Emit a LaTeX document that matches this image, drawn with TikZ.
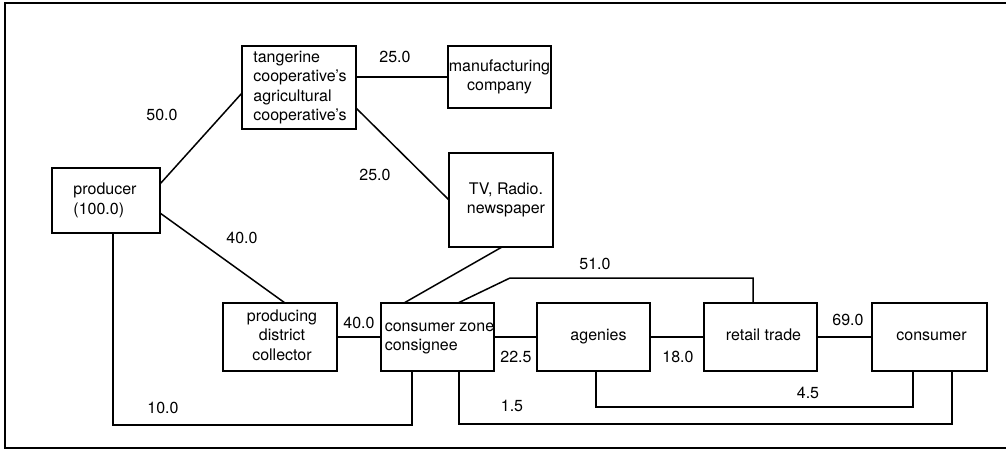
\documentclass[tikz,border=0pt]{standalone}
\usepackage{fontspec}
\setmainfont{TeX Gyre Heros}
\usetikzlibrary{calc}
% lines of a box label, moved by (#1 right, #2 up), column alignment #3
\newcommand\boxlines[4]{\raisebox{#2}{\kern#1\begin{tabular}{@{}#3@{}}#4\end{tabular}\kern-#1}}
\begin{document}
\begin{tikzpicture}[x=1pt,y=-1pt,
  every node/.style={font=\fontsize{16}{19.5}\selectfont},
  box/.style={draw, line width=1.6pt, anchor=north west, inner sep=0pt, outer sep=0pt},
  flow/.style={line width=1.5pt},
  qty/.style={inner sep=0pt}]
\useasboundingbox (0,0) rectangle (1006,450);
% frame, running off the right edge
\draw[line width=1.8pt] (1006,3) -- (5,3) -- (5,448) -- (1006,448);

% boxes
\node[box, minimum width=114, minimum height=83] (tang) at (242,46)
  {\boxlines{1pt}{0pt}{l}{tangerine\\cooperative's\\agricultural\\cooperative's}};
\node[box, minimum width=103, minimum height=62] (manu) at (448,46)
  {\boxlines{0pt}{-5pt}{c}{manufacturing\\company}};
\node[box, minimum width=104, minimum height=94] (tv) at (449,153)
  {\boxlines{5pt}{-1pt}{c}{TV, Radio.\\newspaper}};
\node[box, minimum width=108, minimum height=65] (prod) at (52,168)
  {\boxlines{-1pt}{0pt}{l}{producer\\(100.0)}};
\node[box, minimum width=114, minimum height=68] (coll) at (223,303)
  {\boxlines{2pt}{0pt}{c}{producing\\district\\collector}};
\node[box, minimum width=113, minimum height=68] (cz) at (381,303)
  {\boxlines{2pt}{-6pt}{l}{consumer zone\\consignee}};
\node[box, minimum width=113, minimum height=68] (ag) at (537,303)
  {\boxlines{5pt}{0pt}{c}{agenies}};
\node[box, minimum width=113, minimum height=68] (rt) at (704,303)
  {\boxlines{3pt}{-4pt}{c}{retail trade}};
\node[box, minimum width=115, minimum height=68] (cons) at (872,303)
  {\boxlines{2pt}{-4pt}{c}{consumer}};

% connectors
\draw[flow] (manu.west) -- (manu.west -| tang.east);
\draw[flow] ($(tang.north east)+(0,62)$) -- (tv.west);
\draw[flow] ($(prod.north east)+(0,16)$) -- ($(tang.north west)+(0,47)$);
\draw[flow] ($(prod.north east)+(0,45)$) -- ($(coll.north west)+(62,0)$);
\draw[flow] ($(prod.south west)+(61,0)$) -- ++(0,192) -| ($(cz.south west)+(31,0)$);
\draw[flow] (coll.east) -- (cz.west);
\draw[flow] ($(tv.south west)+(53,0)$) -- ($(cz.north west)+(23,0)$);
\draw[flow] ($(cz.north west)+(77,0)$) -- ++(52,-25) -| ($(rt.north west)+(49,0)$);
\draw[flow] (cz.east) -- (ag.west);
\draw[flow] (ag.east) -- (rt.west);
\draw[flow] (rt.east) -- (cons.west);
\draw[flow] ($(ag.south west)+(59,0)$) -- ++(0,36) -| ($(cons.south west)+(41,0)$);
\draw[flow] ($(cz.south west)+(78,0)$) -- ++(0,53) -| ($(cons.south west)+(80,0)$);

% quantities
\node[qty] (q50) at (162,115) {50.0};
\node[qty] (q25a) at (395,57) {25.0};
\node[qty] (q25b) at (375,175) {25.0};
\node[qty] (q40a) at (242,238) {40.0};
\node[qty] (q40b) at (359,323) {40.0};
\node[qty] (q10) at (163,408) {10.0};
\node[qty] (q51) at (595,264) {51.0};
\node[qty] (q225) at (516,357) {22.5};
\node[qty] (q18) at (678,357) {18.0};
\node[qty] (q69) at (848,320) {69.0};
\node[qty] (q45) at (808,393) {4.5};
\node[qty] (q15) at (512,406) {1.5};
\end{tikzpicture}
\end{document}
